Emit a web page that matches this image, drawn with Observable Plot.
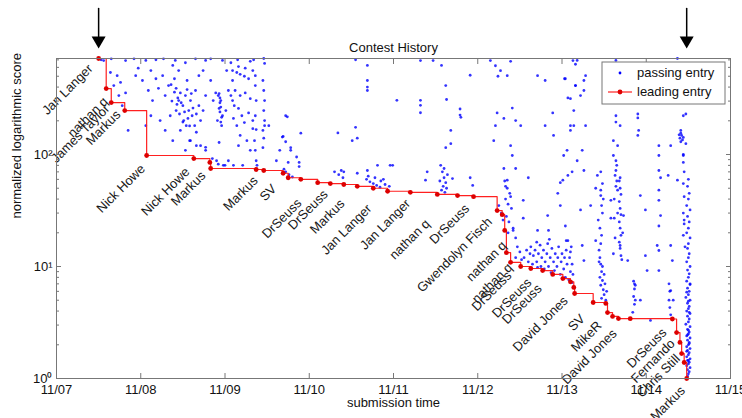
<!DOCTYPE html>
<html><head><meta charset="utf-8">
<script src="https://cdn.jsdelivr.net/npm/d3@7"></script>
<script src="https://cdn.jsdelivr.net/npm/@observablehq/plot@0.6"></script>
<style>body{margin:0;background:#fff} svg{font-family:"Liberation Sans",Arial,sans-serif}</style>
</head><body><div id="chart"></div>
<script>
const xTickDays = [7, 8, 9, 10, 11, 12, 13, 14, 15];
const xTickLabels = ["11/07", "11/08", "11/09", "11/10", "11/11", "11/12", "11/13", "11/14", "11/15"];
const yMajor = [1, 10, 100];
const yMajorLabels = ["10\u2070", "10\u00b9", "10\u00b2"];
const yMinor = [2, 3, 4, 5, 6, 7, 8, 9, 20, 30, 40, 50, 60, 70, 80, 90, 200, 300, 400, 500, 600, 700];

const leaderDay = [7.50, 7.59, 7.65, 7.81, 8.07, 8.63, 8.82, 8.83, 9.37, 9.46, 9.69, 9.75, 9.90, 10.10, 10.25, 10.41, 10.57, 10.76, 10.93, 11.20, 11.52, 11.76, 11.95, 12.23, 12.29, 12.32, 12.34, 12.39, 12.51, 12.63, 12.77, 12.89, 13.01, 13.10, 13.14, 13.15, 13.37, 13.52, 13.54, 13.60, 13.67, 13.81, 14.31, 14.36, 14.40, 14.42, 14.45, 14.48];
const leaderScore = [720, 388, 291, 247, 98, 92, 85, 75, 73.5, 72, 68, 62, 60, 56, 55, 54, 52, 50, 47, 46, 44, 43, 42, 31.6, 29, 21, 13.3, 10.9, 10, 9.6, 9.2, 8.5, 7.8, 7.3, 6.5, 5.74, 4.77, 4.68, 3.88, 3.58, 3.43, 3.42, 3.40, 2.57, 2.1, 1.67, 1.39, 1.0];

const labelNames = ["Jan Langer", "nathan q", "James Taylor", "Markus", "Nick Howe", "Nick Howe", "Markus", "Markus", "SV", "DrSeuss", "DrSeuss", "Markus", "Jan Langer", "Jan Langer", "nathan q", "DrSeuss", "Gwendolyn Fisch", "nathan q", "nathan q", "DrSeuss", "DrSeuss", "DrSeuss", "David Jones", "SV", "MikeR", "David Jones", "DrSeuss", "Fernando", "Chris Still", "Markus"];
const labelDay = [7.44, 7.62, 7.64, 7.77, 8.06, 8.59, 8.78, 9.40, 9.62, 9.92, 10.23, 10.43, 10.75, 11.21, 11.44, 11.91, 12.18, 12.35, 12.42, 12.41, 12.65, 12.77, 13.08, 13.28, 13.48, 13.66, 14.25, 14.35, 14.41, 14.47];
const labelScore = [649, 330, 285, 252, 83, 78, 72, 65, 55, 41, 49, 40.5, 36.5, 40.5, 26.8, 36.5, 27.9, 17.1, 10.9, 9.2, 8.0, 7.05, 5.5, 3.8, 3.3, 2.8, 2.85, 2.28, 1.67, 0.866];

const passingEarly = [
[7.53,700],[7.56,690],[7.65,715],[7.82,690],[7.92,715],[8.06,692],[8.18,700],[8.27,715],[8.41,692],[8.53,660],[8.65,715],[8.77,692],[8.83,715],[8.97,692],[9.07,660],[9.15,700],[9.30,680],[9.34,700],
[7.64,540],[7.72,506],[7.68,413],[7.76,440],[7.74,336],[7.82,355],[7.78,273],
[7.94,506],[7.97,590],[8.02,458],[8.12,562],[8.18,475],[8.09,373],[8.21,390],[8.14,303],[8.26,506],[8.29,336],[8.33,413],
[8.38,624],[8.45,562],[8.40,475],[8.42,390],[8.47,355],[8.45,303],[8.50,273],[8.42,247],[8.53,336],[8.55,458],[8.51,201],[8.57,247],[8.59,303],[8.61,222],[8.54,181],[8.47,164],[8.64,181],[8.66,158],[8.59,133],[8.71,201],[8.69,273],[8.74,247],[8.77,336],[8.65,373],[8.69,506],[8.74,562],
[8.83,458],[8.86,303],[8.89,355],[8.92,336],[8.95,303],[8.93,258],[8.97,222],[8.91,201],[9.01,247],[8.96,181],[9.04,373],[9.07,336],[9.02,562],[9.09,458],[9.11,273],
[8.29,164],[8.38,133],[8.71,120],[8.85,92],[8.90,88],[8.12,222],[8.06,181],[8.23,201],[8.35,222],[7.85,164],[8.53,109],[8.77,109],[9.00,80],[9.04,88],
[8.36,420],[8.40,360],[8.44,320],[8.48,290],[8.52,240],[8.56,210],[8.46,230],[8.50,195],[8.58,180],[8.62,260],[8.66,230],[8.60,350],[8.43,280],[8.37,300],[8.55,380],
[8.94,320],[8.94,290],[8.95,265],[8.94,240],[8.96,215],[8.95,195],[8.93,350],
[9.09,562],[9.14,540],[9.18,520],[9.23,500],[9.28,475],[9.16,610],[9.24,590],[9.33,562],
[9.12,373],[9.18,336],[9.09,303],[9.24,355],[9.30,315],[9.16,258],[9.10,210],[9.20,222],[9.28,235],[9.14,181],[9.23,193],[9.33,201],[9.18,148],[9.26,133],[9.16,120],[9.30,109],[9.33,170],
[9.36,506],[9.36,413],[9.37,303],[9.36,222],[9.37,167],[9.35,133],[9.36,109],[9.37,88],[9.38,80],
[9.46,720],[9.47,650],[9.45,458],[9.46,373],[9.47,303],[9.46,247],[9.47,201],[9.45,164],[9.46,140],[9.45,115],[9.47,181],
[9.52,181],[9.72,222],[9.90,155],[9.69,145],[9.78,109],[9.75,85],[9.88,78],[9.61,88],[9.65,109],
[8.58,133],[8.66,120],[8.77,116],[8.93,128],[8.92,82],[8.98,80],[9.10,80],[9.21,80],[9.72,130],[9.78,115],[9.85,95],[9.88,85]
];

const passingMid = [
[10.55,700],[10.69,624],[10.69,458],[10.69,400],[10.69,373],[11.04,305],[11.32,690],[11.32,305],[11.32,275],[11.32,236],[11.47,690],[11.57,624],[11.62,413],[11.63,310],[11.79,255],[11.79,225],[11.80,215],[11.91,510],[12.15,690],[12.21,620],[12.27,560],[12.24,500],[12.39,680],[12.35,506],[12.71,506],[12.80,458],[13.03,475],[13.13,690],[13.16,413],[13.07,320],
[10.34,156],[10.55,175],[10.57,140],[10.51,133],[10.81,80],[10.96,80],[10.41,70],[10.57,68],[10.69,72],[9.74,217],[9.68,143],
[11.68,164],[11.62,115],[11.68,125],[12.23,235],[12.31,210],[12.21,181],[12.41,260],[12.45,201],[12.51,181],[12.39,120],[12.19,133],[12.80,181],[12.89,235],[12.90,148],[13.10,181],[13.14,247],[12.41,98],[12.31,75],[12.45,75],[12.35,59],[12.60,62],[13.02,98],[13.07,65],[12.98,56],
[11.56,80],[11.58,70],[11.60,62],[11.62,56],[11.59,52],[11.57,48],[11.61,46],[11.63,50],[11.55,58],[11.64,66],[11.60,75],
[11.40,70],[11.38,59],[11.91,62],[11.94,53],[11.70,61],
[9.72,70],[9.76,66],[9.80,63],[9.70,74],[10.30,70],[10.35,66],[10.40,62],[10.38,72],[10.85,58],[10.90,54],[10.95,52],[10.88,60],[10.99,80],
[10.68,60],[10.72,57],[10.76,55],[10.80,53],[10.84,51],[10.70,64],[10.78,62],
[12.25,35],[12.28,30],[12.30,26]
];

const passingLate = [
[13.18,692],[13.64,692],[14.37,720],[13.16,640],[13.04,475],[13.28,506],[13.16,413],[13.26,373],[13.22,336],[13.10,315],[13.69,506],[13.26,458],[14.44,222],[14.47,230],[13.90,230],[13.64,222],[13.64,195],[13.69,181],[13.90,212],[13.91,164],[13.90,148],[13.14,181],[13.10,164],[13.28,181],[13.61,133],[13.66,120],[13.61,98],
[14.41,164],[14.41,155],[14.42,148],[14.40,140],[14.43,135],[14.41,130],[14.39,150],[14.44,142],
[14.29,120],[14.47,125],[14.15,120],[14.44,98],[14.15,98],[14.15,72],[13.06,109],[13.24,109],[13.18,88],[13.26,72],[13.12,70],[13.42,65],[13.46,70],
[13.64,88],[13.65,80],[13.64,72],[13.63,65],[13.65,58],[13.64,52],[13.66,48],
[13.69,62],[14.17,62],[14.26,65],[14.37,59],[14.15,48],[13.01,59],
[12.32,58],[12.35,50],[12.38,45],[12.33,40],[12.36,36],[12.40,33],[12.34,28],[12.37,25],[12.42,22],[12.36,20],[12.45,18],[12.33,52],[12.39,42],
[12.55,12],[12.58,14],[12.60,11],[12.62,13],[12.63,15],[12.65,10.5],[12.66,12.5],[12.68,14],[12.70,11],[12.71,9.8],[12.72,13],[12.74,15.5],[12.75,10],[12.76,12],[12.78,14],[12.79,9.5],[12.80,11],[12.82,13],[12.83,16],[12.84,10],[12.86,12],[12.87,8.8],[12.88,14.5],[12.90,11],[12.91,9.2],[12.92,13],[12.94,10],[12.95,12],[12.96,15],[12.98,8.5],[12.99,11],[13.00,13],[13.02,9.5],[13.03,12],[13.04,8],[13.05,14],[13.06,10.5],[13.08,7.6],[13.09,12],[13.10,9],[13.11,15],[13.12,7.2],[13.12,10.5],[13.13,8.5],[13.10,13.5],[13.05,17],[12.85,17.5],[12.70,16.5],[12.50,13.5],[12.52,11.5],[12.47,15],[12.45,12],
[13.44,14],[13.45,12],[13.46,10.5],[13.47,9],[13.45,8],[13.48,7.5],[13.46,6.8],[13.49,6.2],[13.50,5.6],[13.47,5.2],[13.52,5],[13.44,11],[13.51,7],[13.53,6],[13.48,10],[13.50,8.5],[13.46,16],[13.47,19],[13.45,22],[13.43,26],
[13.48,30],[13.47,35],[13.49,40],[13.46,48],[13.48,55],
[13.68,58],[13.69,50],[13.70,44],[13.68,38],[13.69,33],[13.70,29],[13.68,25],[13.69,22],[13.70,19],[13.68,16.5],[13.69,14.5],[13.70,12.5],[13.71,11.5],[13.66,30],[13.72,20],
[13.62,40],[13.62,27],[13.63,18],[13.61,13],
[13.85,7.4],[13.86,6.3],[13.85,5.4],[13.86,4.6],[13.84,3.9],[13.87,5.0],[13.86,7.0],
[12.42,21],[12.54,39],[12.71,21],[12.83,28.5],[12.84,21],[13.04,23],[13.07,17],[13.22,32],[13.24,15.4],[13.26,11.3],[13.40,17],[13.58,27],[13.69,15.4],[13.73,28.5],[13.78,11.3],[13.87,6.8],[14.01,9.2],[14.13,15.4],[14.15,39],[14.17,28.5],[14.29,15.4],[14.31,11.3],[14.29,6.1],[14.32,5.0],[12.95,45],[12.54,27],[12.98,35],[13.34,35],[13.40,50],[13.46,43],[13.58,39],[13.93,43],[13.99,32],[14.15,13.9],[14.15,9.2],[14.15,23],[13.99,12.5],[13.93,5.0],[14.05,3.3],
[14.27,7],[14.28,6],[14.27,5],[14.28,4.3],[14.29,3.7],
[14.44,100],[14.44,85],[14.45,70],[14.44,55],[14.45,42],[14.44,30],[14.45,24],[14.44,19],[14.46,15],[14.45,26],
[14.50,60],[14.49,52],[14.51,45],[14.50,40],[14.48,35],[14.52,32],[14.49,28],[14.51,25],[14.50,22],[14.48,20],[14.52,18],[14.50,16],[14.49,14.5],[14.51,13],[14.50,12],[14.48,11],[14.52,10],[14.49,9.3],[14.51,8.6],[14.50,8],[14.48,7.4],[14.52,6.9],[14.49,6.4],[14.51,6],[14.50,5.6],[14.47,5.3],[14.52,5],[14.49,4.7],[14.51,4.4],[14.50,4.2],[14.48,4],[14.52,3.8],[14.49,3.6],[14.51,3.4],[14.50,3.2],[14.47,3.05],[14.52,2.9],[14.49,2.75],[14.51,2.6],[14.50,2.5],[14.48,2.4],[14.52,2.3],[14.49,2.2],[14.51,2.1],[14.50,2.0],[14.48,1.92],[14.52,1.85],[14.49,1.78],[14.51,1.7],[14.50,1.63],[14.48,1.56],[14.52,1.5],[14.49,1.45],[14.51,1.4],[14.50,1.35],[14.48,1.3],[14.52,1.25],[14.49,1.2],[14.51,1.15],[14.50,1.1],[14.49,1.05],[14.51,3.9],[14.50,4.9],[14.48,5.9],[14.52,7],[14.50,2.7],[14.49,2.45],[14.51,2.05],[14.48,1.75],[14.50,1.45]
];

const titleText = "Contest History";
const xLabelText = "submission time";
const yLabelText = "normalized logarithmic score";
const legendLabels = ["passing entry", "leading entry"];

const leader = leaderDay.map((d, i) => ({day: d, score: leaderScore[i]}));
const labels = labelNames.map((n, i) => ({name: n, day: labelDay[i], score: labelScore[i]}));
const passing = [...passingEarly, ...passingMid, ...passingLate].map(([day, score]) => ({day, score}));
const arrowDays = [leaderDay[0], leaderDay[leaderDay.length - 1]];

const FONT = 13;
const tickColor = "#777";
const lineShape = {draw(context, l) { context.moveTo(0, 0); context.lineTo(0, -l); }};

const plot = Plot.plot({
  width: 742, height: 418,
  marginLeft: 56, marginRight: 12, marginTop: 58, marginBottom: 40,
  style: {fontFamily: "'Liberation Sans', Arial, sans-serif", fontSize: FONT + "px", background: "white", color: "#111"},
  x: {type: "linear", domain: [7, 15]},
  y: {type: "log", domain: [1, 720]},
  marks: [
    Plot.dot(passing, {x: "day", y: "score", r: 1.4, fill: "#0000ff", fillOpacity: 0.8, stroke: "none"}),
    Plot.line(leader, {x: "day", y: "score", curve: "step-after", stroke: "#ff2020", strokeWidth: 1.2}),
    Plot.dot(leader, {x: "day", y: "score", r: 2.4, fill: "#dd0000", stroke: "none"}),
    Plot.text(labels, {x: "day", y: "score", text: "name", rotate: -45, textAnchor: "end", dx: -3, dy: 3, fontSize: FONT, fill: "#1a1a1a"}),
    Plot.frame({stroke: tickColor}),
    Plot.axisX(xTickDays, {tickSize: -5, tickFormat: () => "", stroke: tickColor, label: null}),
    Plot.axisX(xTickDays, {anchor: "top", tickSize: -5, tickFormat: () => "", stroke: tickColor, label: null}),
    Plot.axisX(xTickDays, {tickSize: 0, tickPadding: 6, tickFormat: d => xTickLabels[xTickDays.indexOf(d)], fontSize: FONT, fill: "#111", label: null}),
    Plot.axisY(yMajor, {tickSize: -5, tickFormat: () => "", stroke: tickColor, label: null}),
    Plot.axisY(yMajor, {anchor: "right", tickSize: -5, tickFormat: () => "", stroke: tickColor, label: null}),
    Plot.axisY(yMinor, {tickSize: -3, tickFormat: () => "", stroke: tickColor, label: null}),
    Plot.axisY(yMinor, {anchor: "right", tickSize: -3, tickFormat: () => "", stroke: tickColor, label: null}),
    Plot.axisY(yMajor, {tickSize: 0, tickPadding: 4, tickFormat: d => yMajorLabels[yMajor.indexOf(d)], fontSize: FONT, fill: "#111", label: null}),
    Plot.text([titleText], {frameAnchor: "top", dy: -16, fontSize: FONT, fill: "#111"}),
    Plot.text([xLabelText], {frameAnchor: "bottom", dy: 28, fontSize: FONT, fill: "#111"}),
    Plot.text([yLabelText], {frameAnchor: "left", rotate: -90, dx: -40, fontSize: FONT, fill: "#111"}),
    Plot.vector(arrowDays, {x: d => d, frameAnchor: "top", dy: -22, length: 28, anchor: "start", shape: lineShape, stroke: "black", strokeWidth: 1.5}),
    Plot.dot(arrowDays, {x: d => d, frameAnchor: "top", dy: -18, symbol: "triangle", rotate: 180, r: 5.2, fill: "black", stroke: "none"})
  ]
});

// legend box (top-right, inside the axes)
const svg = d3.select(plot);
const lg = svg.append("g")
  .attr("font-family", "'Liberation Sans', Arial, sans-serif")
  .attr("font-size", FONT)
  .attr("text-anchor", "start");
lg.append("rect").attr("x", 602).attr("y", 62).attr("width", 123).attr("height", 42).attr("fill", "white").attr("stroke", tickColor);
lg.append("circle").attr("cx", 620).attr("cy", 73).attr("r", 1.4).attr("fill", "#0000ff");
lg.append("text").attr("x", 637).attr("y", 77).attr("fill", "#111").attr("text-anchor", "start").text(legendLabels[0]);
lg.append("line").attr("x1", 608).attr("x2", 632).attr("y1", 92).attr("y2", 92).attr("stroke", "#ff2020").attr("stroke-width", 1.2);
lg.append("circle").attr("cx", 620).attr("cy", 92).attr("r", 2.4).attr("fill", "#dd0000");
lg.append("text").attr("x", 637).attr("y", 96).attr("fill", "#111").attr("text-anchor", "start").text(legendLabels[1]);

document.getElementById("chart").appendChild(plot);
</script>
</body></html>
